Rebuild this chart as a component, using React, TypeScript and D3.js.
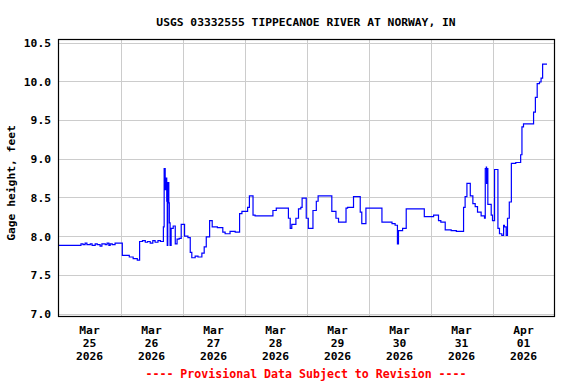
import { useEffect, useRef } from "react";
import * as d3 from "d3";

// hours after Mar 25 2026 00:00, gage height in feet
const hours = [
  0, 8.7, 9.5, 10.3, 11, 12.3, 13, 14.2, 15, 16.1, 16.8, 18.1, 18.8, 19.5, 20.0, 20.8, 21.9,
  24.7, 27.4, 28.9, 30.5, 31.4, 32.5, 33.6, 34.5, 35.5, 36.5, 37.4, 38.5, 39.5,
  40.6, 40.9, 41.3, 41.7, 41.9, 42.1, 42.3, 42.7, 42.9, 43.2, 43.6, 44.4, 45.2, 45.9,
  46.7, 47.5, 48.8, 50.1, 51.0, 51.6, 52.9, 54.0, 55.5, 56.4, 57.2, 58.5, 59.5, 61.5,
  63.6, 64.5, 66.4, 68.4, 70.1, 71.0, 73.2, 73.9, 75.3, 76.1, 83.0, 84.3, 89.0, 89.7,
  90.3, 91.9, 92.9, 93.8, 94.3, 95.9, 96.7, 98.5, 99.8, 100.5, 105.8, 107.4, 108.4,
  111.3, 111.9, 114.2, 116.8, 117.4, 119.0, 125.2, 129.1, 130.3, 131.2, 131.6, 133.2,
  134.6, 141.6, 145.2, 147.1, 148.0, 149.7, 152, 154, 156.8, 157.4, 158.1, 159.4,
  160.4, 161.3, 162.2, 163.6, 164.9, 165.2, 165.6, 165.7, 165.9, 166.2, 167.5, 168.0,
  168.8, 170.1, 170.7, 171.6, 172.3, 172.6, 173.3, 173.8, 174.5, 175.3, 177, 178.5,
  178.9, 179.4, 180.0, 183.9, 184.6, 185.3, 186.2, 186.8, 187.4, 189.1,
];
const gageFeet = [
  7.88, 7.9, 7.89, 7.91, 7.89, 7.9, 7.88, 7.9, 7.89, 7.87, 7.9, 7.89, 7.91, 7.88, 7.9, 7.89, 7.91,
  7.75, 7.73, 7.71, 7.69, 7.93, 7.94, 7.92, 7.93, 7.91, 7.94, 7.92, 7.94, 7.93,
  8.12, 8.87, 8.6, 8.75, 8.45, 7.88, 8.69, 8.43, 8.17, 7.88, 8.1, 8.13, 7.9, 7.96,
  7.97, 8.15, 8.0, 7.98, 7.79, 7.72, 7.74, 7.73, 7.78, 7.86, 7.99, 8.2, 8.12, 8.11,
  8.05, 8.03, 8.06, 8.05, 8.29, 8.32, 8.37, 8.52, 8.27, 8.26, 8.33, 8.36, 8.23, 8.1,
  8.15, 8.23, 8.35, 8.37, 8.49, 8.23, 8.1, 8.33, 8.45, 8.52, 8.32, 8.23, 8.18,
  8.36, 8.37, 8.51, 8.31, 8.16, 8.36, 8.18, 8.16, 8.14, 7.9, 8.07, 8.1,
  8.35, 8.25, 8.27, 8.2, 8.18, 8.08, 8.07, 8.06, 8.37, 8.51, 8.68, 8.52,
  8.42, 8.38, 8.31, 8.26, 8.23, 8.87, 8.89, 8.68, 8.87, 8.41, 8.27, 8.2,
  8.86, 8.1, 8.03, 8.01, 8.14, 8.12, 8.01, 8.23, 8.44, 8.94, 8.95, 8.95,
  9.05, 9.41, 9.45, 9.6, 9.79, 9.97, 9.99, 10.04, 10.22, 10.22,
];

const yTicks = [7.0, 7.5, 8.0, 8.5, 9.0, 9.5, 10.0, 10.5];
const dayMonths = ["Mar", "Mar", "Mar", "Mar", "Mar", "Mar", "Mar", "Apr"];
const dayNumbers = ["25", "26", "27", "28", "29", "30", "31", "01"];
const dayYears = ["2026", "2026", "2026", "2026", "2026", "2026", "2026", "2026"];

const title = "USGS 03332555 TIPPECANOE RIVER AT NORWAY, IN";
const yLabel = "Gage height, feet";
const note = "---- Provisional Data Subject to Revision ----";

const width = 576;
const height = 384;
const font = "'DejaVu Sans Mono', monospace";

export default function App() {
  const ref = useRef<SVGSVGElement>(null);

  useEffect(() => {
    const svg = d3.select(ref.current);
    svg.selectAll("*").remove();

    const start = Date.UTC(2026, 2, 25);
    const hour = 3600 * 1000;

    const x = d3
      .scaleUtc()
      .domain([new Date(start), new Date(start + 192 * hour)])
      .range([58.5, 554.5]);

    const y = d3.scaleLinear().domain([7.0, 10.5]).range([313.5, 42.5]);

    const data = hours.map((h, i) => ({ t: new Date(start + h * hour), v: gageFeet[i] }));

    // grid
    svg
      .append("g")
      .selectAll("line")
      .data(yTicks)
      .join("line")
      .attr("x1", 58.5)
      .attr("x2", 554.5)
      .attr("y1", (d) => Math.round(y(d)) + 0.5)
      .attr("y2", (d) => Math.round(y(d)) + 0.5)
      .attr("stroke", "#cccccc");

    const days = d3.range(1, 8).map((d) => new Date(start + d * 24 * hour));
    svg
      .append("g")
      .selectAll("line")
      .data(days)
      .join("line")
      .attr("x1", (d) => Math.round(x(d)) + 0.5)
      .attr("x2", (d) => Math.round(x(d)) + 0.5)
      .attr("y1", 39.5)
      .attr("y2", 316.5)
      .attr("stroke", "#cccccc");

    // data line
    const line = d3
      .line<{ t: Date; v: number }>()
      .x((d) => x(d.t))
      .y((d) => y(d.v))
      .curve(d3.curveStepAfter);

    svg
      .append("path")
      .datum(data)
      .attr("d", line)
      .attr("fill", "none")
      .attr("stroke", "#0000ff")
      .attr("stroke-width", 1.2);

    // frame
    svg
      .append("rect")
      .attr("x", 58.5)
      .attr("y", 39.5)
      .attr("width", 496)
      .attr("height", 277)
      .attr("fill", "none")
      .attr("stroke", "#000")
      .attr("stroke-width", 1.2);

    const txt = svg
      .append("g")
      .attr("font-family", font)
      .attr("font-weight", "bold")
      .attr("font-size", 11.3)
      .attr("fill", "#000");

    txt
      .append("text")
      .attr("x", 306)
      .attr("y", 26)
      .attr("text-anchor", "middle")
      .text(title);

    txt
      .selectAll(".ytick")
      .data(yTicks)
      .join("text")
      .attr("class", "ytick")
      .attr("x", 51)
      .attr("y", (d) => y(d) + 4.5)
      .attr("text-anchor", "end")
      .text((d) => d3.format(".1f")(d));

    txt
      .append("text")
      .attr("transform", "translate(15,183) rotate(-90)")
      .attr("text-anchor", "middle")
      .text(yLabel);

    const noons = d3.range(8).map((d) => new Date(start + (d * 24 + 12) * hour));
    const xl = txt
      .selectAll(".xtick")
      .data(noons)
      .join("text")
      .attr("class", "xtick")
      .attr("text-anchor", "middle");
    xl.append("tspan")
      .attr("x", (d) => x(d))
      .attr("y", 334)
      .text((_, i) => dayMonths[i]);
    xl.append("tspan")
      .attr("x", (d) => x(d))
      .attr("y", 347)
      .text((_, i) => dayNumbers[i]);
    xl.append("tspan")
      .attr("x", (d) => x(d))
      .attr("y", 360)
      .text((_, i) => dayYears[i]);

    txt
      .append("text")
      .attr("x", 306)
      .attr("y", 378)
      .attr("text-anchor", "middle")
      .attr("fill", "#ff0000")
      .attr("font-size", 11.6)
      .text(note);
  }, []);

  return (
    <svg
      ref={ref}
      width={width}
      height={height}
      style={{ position: "absolute", left: 0, top: 0, background: "#fff" }}
    />
  );
}
